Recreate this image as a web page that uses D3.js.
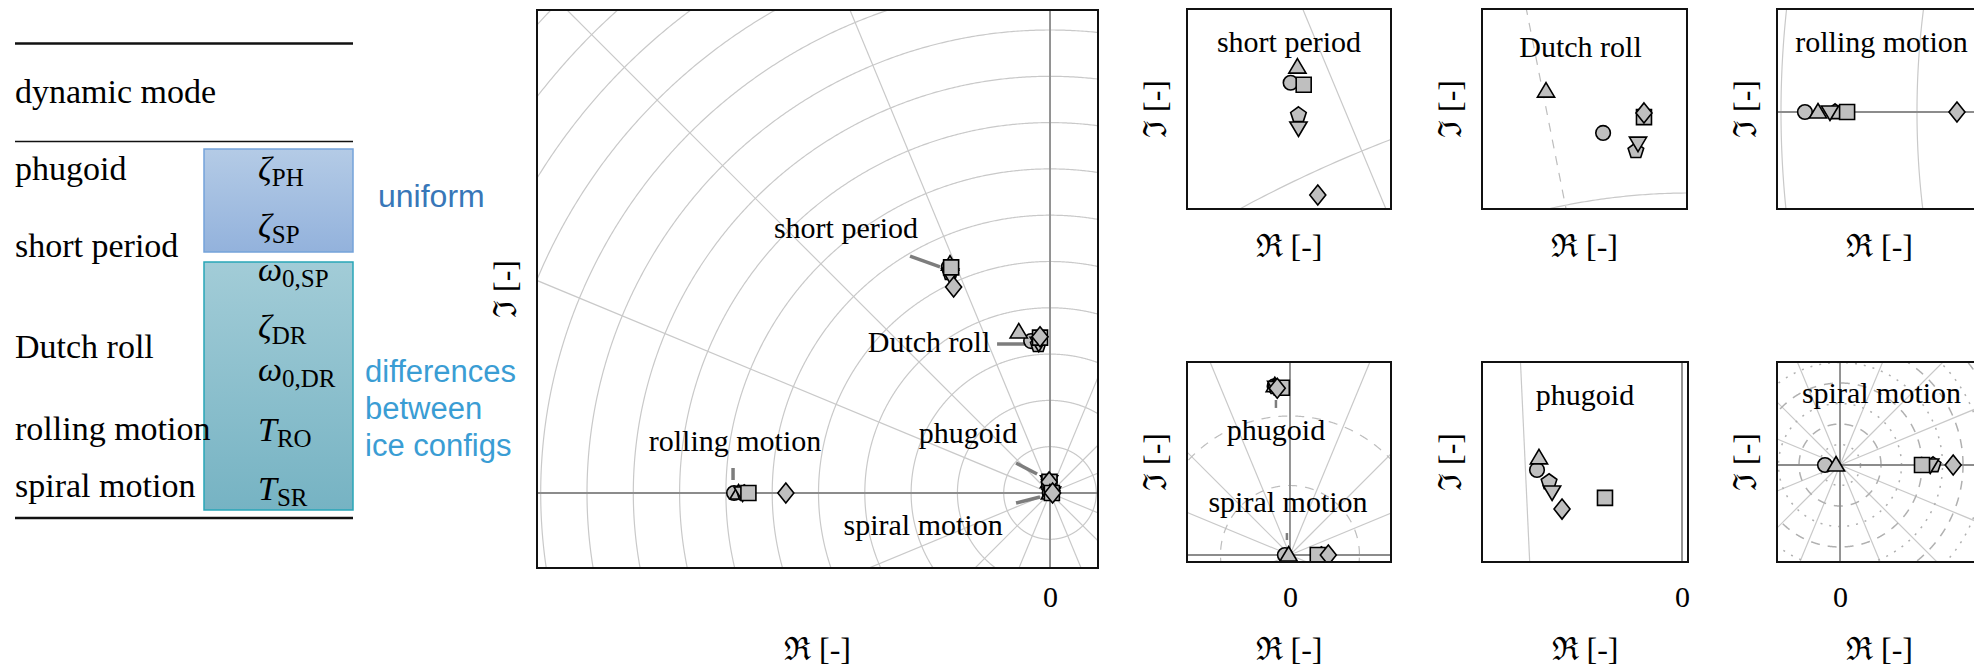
<!DOCTYPE html>
<html>
<head>
<meta charset="utf-8">
<script src="https://cdn.jsdelivr.net/npm/d3@7"></script>
<style>
  html, body { margin: 0; padding: 0; background: #fff; }
  svg { display: block; }
  text { font-family: "Liberation Serif", "DejaVu Serif", serif; fill: #000; }
  .sans { font-family: "Liberation Sans", Arial, sans-serif; }
</style>
</head>
<body>
<svg id="chart" width="1974" height="669"></svg>
<script>
// ---------------- data ----------------
// aircraft configurations (clean and five ice configurations), one marker shape each
const configs = ["clean", "ice 1", "ice 2", "ice 3", "ice 4", "ice 5"];
const configShapes = ["circle", "triangle", "square", "pentagon", "triangleDown", "diamond"];

// eigenvalues per dynamic mode, in the order of `configs`
const shortPeriodRe = [-1.093, -1.080, -1.068, -1.078, -1.078, -1.041];
const shortPeriodIm = [2.441, 2.471, 2.437, 2.379, 2.354, 2.225];
const dutchRollRe = [-0.204, -0.338, -0.108, -0.127, -0.122, -0.108];
const dutchRollIm = [1.641, 1.739, 1.678, 1.599, 1.617, 1.688];
const rollingRe = [-3.412, -3.364, -3.257, -3.301, -3.320, -2.853];
const rollingIm = [0, 0, 0, 0, 0, 0];
const phugoidRe = [-0.01107, -0.01092, -0.00588, -0.01015, -0.00992, -0.00916];
const phugoidIm = [0.12136, 0.12179, 0.12036, 0.12093, 0.12057, 0.11996];
const spiralRe = [-0.00366, -0.00098, 0.0200, 0.0227, 0.0220, 0.0276];
const spiralIm = [0, 0, 0, 0, 0, 0];

// table: dynamic modes and the parameters that describe them
const tableModes = ["phugoid", "short period", "Dutch roll", "rolling motion", "spiral motion"];
const uniformParams = [["ζ", "PH"], ["ζ", "SP"]];
const differingParams = [["ω", "0,SP"], ["ζ", "DR"], ["ω", "0,DR"], ["T", "RO"], ["T", "SR"]];

// x tick values shown under the pole maps
const reTicks = [0];

const modes = [
  { name: "short period", re: shortPeriodRe, im: shortPeriodIm },
  { name: "Dutch roll", re: dutchRollRe, im: dutchRollIm },
  { name: "rolling motion", re: rollingRe, im: rollingIm },
  { name: "phugoid", re: phugoidRe, im: phugoidIm },
  { name: "spiral motion", re: spiralRe, im: spiralIm }
];

// ---------------- layout ----------------
const svg = d3.select("#chart");
const defs = svg.append("defs");

function grad(id, top, bottom) {
  const g = defs.append("linearGradient").attr("id", id)
    .attr("x1", 0).attr("y1", 0).attr("x2", 0).attr("y2", 1);
  g.append("stop").attr("offset", "0%").attr("stop-color", top);
  g.append("stop").attr("offset", "100%").attr("stop-color", bottom);
}
grad("gUniform", "#b4cbe6", "#93b2dc");
grad("gDiffer", "#a2ccd7", "#76b3c3");

// ---- overview table ----
const tbl = svg.append("g");
const tX0 = 15, tX1 = 353;
tbl.append("rect").attr("x", 204).attr("y", 149).attr("width", 149).attr("height", 103)
  .attr("fill", "url(#gUniform)").attr("stroke", "#74a3da").attr("stroke-width", 1.5);
tbl.append("rect").attr("x", 204).attr("y", 262).attr("width", 149).attr("height", 248)
  .attr("fill", "url(#gDiffer)").attr("stroke", "#28a6b8").attr("stroke-width", 1.5);
[[43.5, 2.6], [141.5, 1.5], [518, 2.6]].forEach(([yy, w]) => {
  tbl.append("line").attr("x1", tX0).attr("x2", tX1).attr("y1", yy).attr("y2", yy)
    .attr("stroke", "#111").attr("stroke-width", w);
});
tbl.append("text").attr("x", tX0).attr("y", 103).attr("font-size", 34).text("dynamic mode");
const modeBaselines = [180, 257, 358, 440, 497];
tableModes.forEach((m, i) => {
  tbl.append("text").attr("x", tX0).attr("y", modeBaselines[i]).attr("font-size", 34).text(m);
});

const paramBaselines = [180, 237, 281, 338, 381, 441, 500];
uniformParams.concat(differingParams).forEach(([sym, sub], i) => {
  const t = tbl.append("text").attr("x", 258).attr("y", paramBaselines[i]).attr("font-size", 34);
  t.append("tspan").attr("font-style", "italic").text(sym);
  t.append("tspan").attr("font-size", 25).attr("dy", 6).text(sub);
});
tbl.append("text").attr("class", "sans").attr("x", 378).attr("y", 207)
  .attr("font-size", 32).style("fill", "#3877b8").text("uniform");
["differences", "between", "ice configs"].forEach((s, i) => {
  tbl.append("text").attr("class", "sans").attr("x", 365).attr("y", 382 + i * 37)
    .attr("font-size", 31).style("fill", "#3a9dd4").text(s);
});

// ---- pole maps ----
const GRID = { stroke: "#c9c9c9", width: 1.2 };
const panels = [
  { id: "main", box: [537, 10, 1098, 568], re: [-5.540, 0.518], im: [-0.810, 5.216],
    grid: [{ kind: "circle", step: 0.5, offset: 0 }, { kind: "ray", step: 22.5, offset: 0 }],
    labelBase: 660 },
  { id: "sp", box: [1187, 9, 1391, 209], re: [-1.2913, -0.9009], im: [2.1982, 2.5828],
    grid: [{ kind: "circle", step: 0.5, offset: 0 }, { kind: "ray", step: 22.5, offset: 0 }],
    labelBase: 257, title: ["short period", 0, 43] },
  { id: "dr", box: [1482, 9, 1687, 209], re: [-0.4883, -0.0070], im: [1.4624, 1.9319],
    grid: [{ kind: "circle", step: 0.5, offset: 0 }, { kind: "ray", step: 22.5, offset: 0 },
           { kind: "ray", step: 22.5, offset: 11.25, dash: "9,8" }],
    labelBase: 257, title: ["Dutch roll", -4, 48] },
  { id: "ro", box: [1777, 9, 1982, 209], re: [-3.5147, -2.761], im: [-0.3566, 0.3787],
    grid: [{ kind: "circle", step: 0.5, offset: 0 }, { kind: "ray", step: 22.5, offset: 0 }],
    labelBase: 257, title: ["rolling motion", 2, 43] },
  { id: "ps", box: [1187, 362, 1391, 562], re: [-0.0741, 0.0727], im: [-0.00504, 0.13885],
    grid: [{ kind: "circle", step: 0.5, offset: 0 }, { kind: "ray", step: 22.5, offset: 0 },
           { kind: "circle", step: 0.05, offset: 0, max: 0.1, dash: "9,8" }],
    labelBase: 660, notes: [["phugoid", -13, 78], ["spiral motion", -1, 150]] },
  { id: "ph", box: [1482, 362, 1688, 562], re: [-0.01527, 0.000458], im: [0.118071, 0.125214],
    grid: [{ kind: "circle", step: 0.5, offset: 0 }, { kind: "ray", step: 5.625, offset: 0 }],
    labelBase: 660, title: ["phugoid", 0, 43] },
  { id: "sr", box: [1777, 362, 1982, 562], re: [-0.01537, 0.03463], im: [-0.02366, 0.02512],
    grid: [{ kind: "circle", step: 0.5, offset: 0 }, { kind: "ray", step: 22.5, offset: 0 },
           { kind: "circle", step: 0.01, offset: 0, dash: "9,8", strong: true },
           { kind: "circle", step: 0.01, offset: 0.005, dash: "2,7", strong: true }],
    labelBase: 660, title: ["spiral motion", 2, 41] }
];

// labels and leader lines of the overview map, in eigenvalue coordinates
const mainNotes = [
  { text: "short period", re: -2.203, im: 2.754 },
  { text: "Dutch roll", re: -1.307, im: 1.523 },
  { text: "phugoid", re: -0.886, im: 0.540 },
  { text: "spiral motion", re: -1.371, im: -0.454 },
  { text: "rolling motion", re: -3.402, im: 0.454 }
];
const leaders = [
  { panel: "main", from: [-1.512, 2.559], to: [-1.188, 2.441], w: 3.5 },
  { panel: "main", from: [-0.572, 1.609], to: [-0.248, 1.609], w: 3.5 },
  { panel: "main", from: [-0.367, 0.324], to: [-0.140, 0.205], w: 3.5 },
  { panel: "main", from: [-0.367, -0.108], to: [-0.108, -0.043], w: 3.5 },
  { panel: "main", from: [-3.423, 0.270], to: [-3.423, 0.140], w: 3.5 },
  { panel: "ps", from: [-0.0101, 0.1115], to: [-0.0101, 0.1058], w: 2.5 },
  { panel: "ps", from: [-0.0022, 0.0158], to: [-0.0022, 0.0108], w: 2.5 }
];

// marker shapes
function polygon(n, r, rot) {
  const pts = d3.range(n).map(i => {
    const a = rot + i * 2 * Math.PI / n;
    return [r * Math.sin(a), -r * Math.cos(a)];
  });
  return "M" + pts.map(p => p[0].toFixed(2) + "," + p[1].toFixed(2)).join("L") + "Z";
}
const shapePath = {
  circle: d3.symbol(d3.symbolCircle, Math.PI * 7.3 * 7.3)(),
  triangle: "M0,-8.5L8.6,6L-8.6,6Z",
  square: "M-7.5,-7.5H7.5V7.5H-7.5Z",
  pentagon: polygon(5, 8.2, 0),
  triangleDown: "M0,8.5L8.6,-6L-8.6,-6Z",
  diamond: "M0,-10L8,0L0,10L-8,0Z"
};
const drawOrder = [0, 1, 3, 4, 2, 5];

function clamp(v, lo, hi) { return Math.max(lo, Math.min(hi, v)); }

panels.forEach(p => {
  const [x0, y0, x1, y1] = p.box;
  const x = d3.scaleLinear().domain(p.re).range([x0, x1]);
  const y = d3.scaleLinear().domain(p.im).range([y1, y0]);
  const g = svg.append("g").attr("class", "panel-" + p.id);
  const clipId = "clip-" + p.id;
  defs.append("clipPath").attr("id", clipId).append("rect")
    .attr("x", x0).attr("y", y0).attr("width", x1 - x0).attr("height", y1 - y0);
  const body = g.append("g").attr("clip-path", `url(#${clipId})`);

  // distance range of the visible window from the origin
  const corners = [[p.re[0], p.im[0]], [p.re[0], p.im[1]], [p.re[1], p.im[0]], [p.re[1], p.im[1]]];
  const dMax = d3.max(corners, c => Math.hypot(c[0], c[1]));
  const dMin = Math.hypot(clamp(0, p.re[0], p.re[1]), clamp(0, p.im[0], p.im[1]));
  const line = d3.line().x(d => x(d[0])).y(d => y(d[1]));

  p.grid.forEach(layer => {
    const stroke = layer.strong ? "#b0b0b0" : (layer.dash ? "#bdbdbd" : GRID.stroke);
    const width = layer.strong ? 1.5 : GRID.width;
    if (layer.kind === "circle") {
      const rTop = Math.min(dMax, layer.max ?? Infinity);
      const k0 = Math.max(0, Math.ceil((dMin - layer.offset) / layer.step - 1e-9));
      for (let k = k0; layer.offset + k * layer.step <= rTop + 1e-12; k++) {
        const r = layer.offset + k * layer.step;
        if (r <= 0) continue;
        const pts = d3.range(0, 1441).map(i => {
          const a = 2 * Math.PI * i / 1440;
          return [r * Math.cos(a), r * Math.sin(a)];
        });
        body.append("path").attr("d", line(pts)).attr("fill", "none")
          .attr("stroke", stroke).attr("stroke-width", width)
          .attr("stroke-dasharray", layer.dash || null);
      }
    } else {
      const R = dMax * 3 + 1;
      const n = Math.round(360 / layer.step);
      for (let k = 0; k < n; k++) {
        const a = (layer.offset + k * layer.step) * Math.PI / 180;
        body.append("path").attr("d", line([[0, 0], [R * Math.cos(a), R * Math.sin(a)]]))
          .attr("fill", "none").attr("stroke", stroke).attr("stroke-width", width)
          .attr("stroke-dasharray", layer.dash || null);
      }
    }
  });

  // real and imaginary axes
  body.append("line").attr("x1", x0).attr("x2", x1).attr("y1", y(0)).attr("y2", y(0))
    .attr("stroke", "#8c8c8c").attr("stroke-width", 1.8);
  body.append("line").attr("x1", x(0)).attr("x2", x(0)).attr("y1", y0).attr("y2", y1)
    .attr("stroke", "#8c8c8c").attr("stroke-width", 1.8);

  // leader lines
  leaders.filter(l => l.panel === p.id).forEach(l => {
    body.append("line").attr("x1", x(l.from[0])).attr("y1", y(l.from[1]))
      .attr("x2", x(l.to[0])).attr("y2", y(l.to[1]))
      .attr("stroke", "#7d7d7d").attr("stroke-width", l.w);
  });

  // eigenvalue markers
  modes.forEach(m => {
    drawOrder.forEach(ci => {
      body.append("path").attr("d", shapePath[configShapes[ci]])
        .attr("transform", `translate(${x(m.re[ci])},${y(m.im[ci])})`)
        .attr("fill", "#bfbfbf").attr("stroke", "#000").attr("stroke-width", 1.6)
        .attr("stroke-linejoin", "miter");
    });
  });

  // mode labels
  const cx = (x0 + x1) / 2;
  if (p.id === "main") {
    mainNotes.forEach(n => {
      g.append("text").attr("x", x(n.re)).attr("y", y(n.im)).attr("text-anchor", "middle")
        .attr("font-size", 30).text(n.text);
    });
  }
  if (p.title) {
    g.append("text").attr("x", cx + p.title[1]).attr("y", y0 + p.title[2])
      .attr("text-anchor", "middle").attr("font-size", 30).text(p.title[0]);
  }
  (p.notes || []).forEach(n => {
    g.append("text").attr("x", cx + n[1]).attr("y", y0 + n[2])
      .attr("text-anchor", "middle").attr("font-size", 30).text(n[0]);
  });

  // frame
  g.append("rect").attr("x", x0).attr("y", y0).attr("width", x1 - x0).attr("height", y1 - y0)
    .attr("fill", "none").attr("stroke", "#111").attr("stroke-width", 2);

  // x axis: tick at zero only where visible
  const ticks = reTicks.filter(v => v >= p.re[0] && v <= p.re[1]);
  if (ticks.length) {
    const ax = g.append("g").attr("transform", `translate(0,${y1})`)
      .call(d3.axisBottom(x).tickValues(ticks).tickSize(0).tickPadding(18 + (568 - y1)).tickFormat(d3.format("d")));
    ax.select(".domain").remove();
    ax.selectAll("text").attr("font-size", 30).attr("font-family", "Liberation Serif, serif").attr("fill", "#000");
  }

  // axis titles
  const xl = g.append("text").attr("x", cx).attr("y", p.labelBase).attr("text-anchor", "middle").attr("font-size", 32);
  xl.append("tspan").text("ℜ");
  xl.append("tspan").text(" [-]");
  const cy = (y0 + y1) / 2;
  const yl = g.append("text").attr("transform", `translate(${x0 - 21},${cy}) rotate(-90)`)
    .attr("text-anchor", "middle").attr("font-size", 32);
  yl.append("tspan").text("ℑ");
  yl.append("tspan").text(" [-]");
});
</script>
</body>
</html>
